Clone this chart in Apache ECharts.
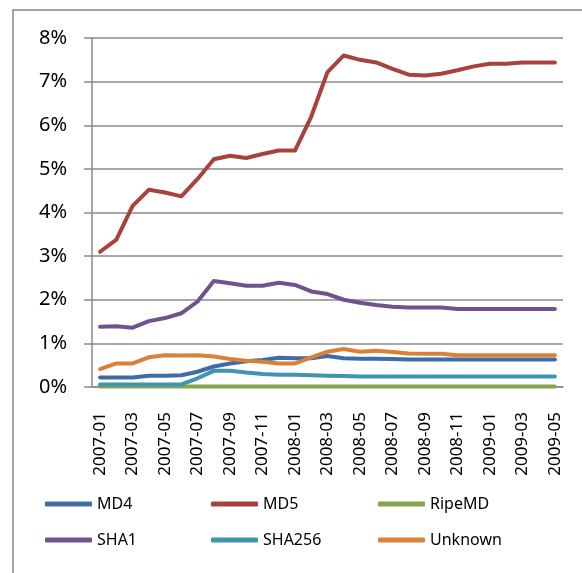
<!DOCTYPE html>
<html>
<head>
<meta charset="utf-8">
<script src="https://cdn.jsdelivr.net/npm/echarts@6/dist/echarts.min.js"></script>
<style>
  html, body { margin: 0; padding: 0; background: #fff; }
  #chart { width: 582px; height: 573px; }
</style>
</head>
<body>
<div id="chart"></div>
<script>
// months 2007-01 .. 2009-05
const months = [
  '2007-01','2007-02','2007-03','2007-04','2007-05','2007-06','2007-07','2007-08','2007-09','2007-10','2007-11','2007-12',
  '2008-01','2008-02','2008-03','2008-04','2008-05','2008-06','2008-07','2008-08','2008-09','2008-10','2008-11','2008-12',
  '2009-01','2009-02','2009-03','2009-04','2009-05'
]

// values in percent
const md4 = [0.22,0.22,0.22,0.26,0.26,0.27,0.35,0.47,0.54,0.59,0.62,0.67,0.66,0.66,0.71,0.66,0.65,0.65,0.64,0.63,0.63,0.63,0.63,0.63,0.63,0.63,0.63,0.63,0.63]
const md5 = [3.1,3.38,4.15,4.52,4.46,4.37,4.77,5.22,5.3,5.25,5.34,5.42,5.42,6.2,7.22,7.6,7.5,7.44,7.29,7.16,7.14,7.18,7.26,7.35,7.41,7.41,7.44,7.44,7.44]
const ripemd = [0.01,0.01,0.01,0.01,0.01,0.01,0.01,0.01,0.01,0.01,0.01,0.01,0.01,0.01,0.01,0.01,0.01,0.01,0.01,0.01,0.01,0.01,0.01,0.01,0.01,0.01,0.01,0.01,0.01]
const sha1 = [1.38,1.39,1.36,1.51,1.58,1.69,1.96,2.43,2.38,2.32,2.32,2.39,2.34,2.19,2.13,2.0,1.93,1.88,1.84,1.82,1.82,1.82,1.79,1.79,1.79,1.79,1.79,1.79,1.79]
const sha256 = [0.06,0.06,0.06,0.06,0.06,0.06,0.2,0.37,0.37,0.33,0.3,0.28,0.28,0.27,0.26,0.25,0.24,0.24,0.24,0.24,0.24,0.24,0.24,0.24,0.24,0.24,0.24,0.24,0.24]
const unknown = [0.41,0.54,0.54,0.68,0.73,0.72,0.73,0.7,0.64,0.6,0.58,0.54,0.54,0.68,0.81,0.87,0.81,0.83,0.8,0.77,0.76,0.76,0.73,0.73,0.73,0.73,0.73,0.73,0.73]

const yTicks = [0, 1, 2, 3, 4, 5, 6, 7, 8]

const names = ['MD4', 'MD5', 'RipeMD', 'SHA1', 'SHA256', 'Unknown']
const colors = ['#3d6ca8', '#a8423f', '#86a44a', '#6e538f', '#3d96ae', '#da8137']
const seriesData = [md4, md5, ripemd, sha1, sha256, unknown]

const font = '"Noto Sans", "Open Sans", sans-serif'
const axisGray = '#8a8a8a'

// legend grid: 3 columns, 2 rows
const legendLeft = [45, 211, 378]
const legendTop = [496, 532]

let myChart = echarts.init(document.getElementById('chart'))
myChart.setOption({
  animation: false,
  graphic: [
    {
      type: 'rect',
      shape: { x: 13, y: 10, width: 700, height: 700 },
      style: { fill: 'none', stroke: '#888', lineWidth: 1.5 },
      silent: true
    }
  ],
  grid: {
    left: 92,
    right: 19,
    top: 38,
    bottom: 186
  },
  legend: names.map((n, i) => ({
    data: [n],
    left: legendLeft[i % 3],
    top: legendTop[Math.floor(i / 3)],
    padding: 0,
    icon: 'roundRect',
    itemWidth: 47,
    itemHeight: 5,
    itemGap: 0,
    textStyle: {
      fontFamily: font,
      fontSize: 16,
      color: '#000'
    }
  })),
  xAxis: {
    type: 'category',
    data: months,
    boundaryGap: true,
    axisLine: { lineStyle: { color: axisGray, width: 1.5 } },
    axisTick: { interval: 0, length: 8, lineStyle: { color: axisGray, width: 1.5 } },
    axisLabel: {
      interval: 1,
      rotate: 90,
      margin: 25,
      fontFamily: font,
      fontSize: 17,
      color: '#000'
    }
  },
  yAxis: {
    type: 'value',
    min: yTicks[0],
    max: yTicks[yTicks.length - 1],
    interval: 1,
    axisLine: { show: true, lineStyle: { color: axisGray, width: 1.5 } },
    axisTick: { show: true, length: 8, lineStyle: { color: axisGray, width: 1.5 } },
    axisLabel: {
      formatter: '{value}%',
      margin: 25,
      fontFamily: font,
      fontSize: 20,
      color: '#000'
    },
    splitLine: { lineStyle: { color: axisGray, width: 1.5 } }
  },
  series: names.map((n, i) => ({
    name: n,
    type: 'line',
    data: seriesData[i],
    symbol: 'none',
    color: colors[i],
    lineStyle: { width: 4, color: colors[i], cap: 'round', join: 'round' }
  }))
})
</script>
</body>
</html>
